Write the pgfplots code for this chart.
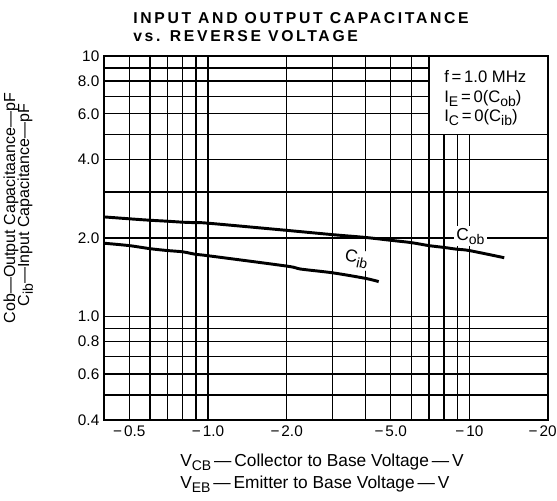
\documentclass[border=0pt]{standalone}
\usepackage{fontspec}
\setmainfont{Liberation Sans}
\usepackage{pgfplots}
\pgfplotsset{compat=1.18}
\newcommand{\sub}[1]{\raisebox{-0.45ex}{\fontsize{10.5}{12}\selectfont #1}}
\newcommand{\px}[2]{(#1*0.75pt,#2*0.75pt)}
\newcommand{\mn}{−\hspace{1.5pt}}
\begin{document}
\begin{tikzpicture}
\useasboundingbox (0,0) rectangle (417.75pt,375pt);
\begin{axis}[
  at={(78pt,60pt)}, anchor=south west,
  scale only axis, width=333pt, height=273pt,
  xmode=log, ymode=log,
  xmin=0.4, xmax=20, ymin=0.4, ymax=10,
  xtick={0.5,0.6,0.7,0.8,0.9,1,2,3,4,5,6,7,8,9,10},
  xticklabels={\mn0.5,,,,,\mn1.0,\mn2.0,,,\mn5.0,,,,,\mn10},
  extra x ticks={20},
  extra x tick labels={\mn20},
  extra x tick style={xticklabel style={xshift=-4pt}},
  ytick={0.4,0.5,0.6,0.7,0.8,0.9,1,2,3,4,5,6,7,8,9,10},
  yticklabels={0.4,,0.6,,0.8,,1.0,2.0,,4.0,,6.0,,8.0,,10},
  minor tick num=0,
  major tick length=0pt,
  grid=major,
  major grid style={black, line width=1.1pt},
  axis line style={black, line width=1.6pt},
  tick label style={font=\fontsize{11.5}{13}\selectfont},
  xticklabel style={yshift=-1pt},
  clip=false,
]
\addplot[black, line width=2.2pt, smooth] coordinates {
  (0.4,2.41) (0.5,2.37) (0.6,2.34) (0.7,2.32) (0.8,2.30) (0.9,2.29) (1.0,2.28)
  (2.0,2.14) (3.0,2.06) (4.0,2.01) (5.0,1.96) (6.0,1.92) (7.0,1.87)
  (8.0,1.84) (9.0,1.81) (10,1.79) (13.6,1.68)
};
\addplot[black, line width=2.2pt, smooth] coordinates {
  (0.4,1.91) (0.5,1.87) (0.6,1.82) (0.7,1.79) (0.8,1.77) (0.9,1.73) (1.0,1.71)
  (2.0,1.56) (2.26,1.52) (3.0,1.47) (4.0,1.40) (4.5,1.36)
};
\fill[white] (axis cs:7,5) rectangle (axis cs:20,10);
\draw[black, line width=1.1pt] (axis cs:7,5) -- (axis cs:7,10);
\draw[black, line width=1.1pt] (axis cs:7,5) -- (axis cs:20,5);
\draw[black, line width=1.6pt] (axis cs:7,10) -- (axis cs:20,10) -- (axis cs:20,5);
\node[fill=white, inner sep=1.5pt, font=\fontsize{13}{15}\selectfont] at (axis cs:10.1,2.03) {C\sub{ob}};
\node[fill=white, inner sep=1pt, rotate=-12, font=\fontsize{13}{15}\selectfont] at (axis cs:3.7,1.66) {C\sub{ib}};
\end{axis}
\begin{scope}[every node/.style={inner sep=0pt}]
\node[anchor=base west, font=\bfseries\fontsize{11.8}{14}\selectfont\addfontfeatures{LetterSpace=17}] at \px{133}{476} {INPUT AND OUTPUT CAPACITANCE};
\node[anchor=base west, font=\bfseries\fontsize{11.8}{14}\selectfont\addfontfeatures{LetterSpace=17}] at \px{133}{458} {vs. REVERSE VOLTAGE};
\node[anchor=base west, font=\fontsize{12.5}{14}\selectfont] at \px{444}{417} {f\,=\,1.0 MHz};
\node[anchor=base west, font=\fontsize{12.5}{14}\selectfont] at \px{444}{397} {I\sub{E}\,=\,0(C\sub{ob})};
\node[anchor=base west, font=\fontsize{12.5}{14}\selectfont] at \px{444}{378} {I\sub{C}\,=\,0(C\sub{ib})};
\node[anchor=base west, font=\fontsize{13}{15}\selectfont] at \px{180}{34} {V\sub{CB}\,—\,Collector to Base Voltage\,—\,V};
\node[anchor=base west, font=\fontsize{13}{15}\selectfont] at \px{180}{12} {V\sub{EB}\,—\,Emitter to Base Voltage\,—\,V};
\node[rotate=90, anchor=base, font=\fontsize{12}{14}\selectfont] at \px{15}{292} {Cob—Output Capacitaance—pF};
\node[rotate=90, anchor=base, font=\fontsize{12}{14}\selectfont] at \px{29}{295} {C\sub{ib}—Input Capacitance—pF};
\end{scope}
\end{tikzpicture}
\end{document}
